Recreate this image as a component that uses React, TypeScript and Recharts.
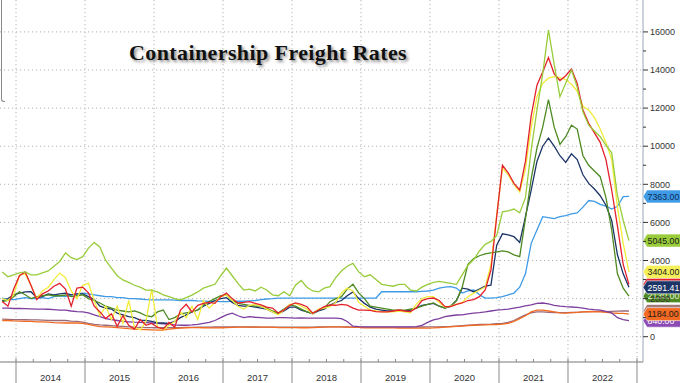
import React from 'react';
import { LineChart, Line, XAxis, YAxis, CartesianGrid, ReferenceDot } from 'recharts';

// Monthly observations, first point at START (fractional year)
const START = 2013.8;

const lightGreen = [
  3400, 3150, 3250, 3350, 3400, 3250, 3250, 3350, 3450, 3700,
  3950, 4400, 4150, 4050, 4200, 4650, 4950, 4700, 4000, 3600,
  3200, 2980, 2850, 2700, 2600, 2450, 2450, 2350, 2200, 2100,
  2000, 1930, 2050, 2180, 2350, 2550, 2650, 2750, 3200, 3600,
  3200, 2800, 2450, 2500, 2400, 2600, 2450, 2200, 2150, 2360,
  2150, 2700, 2950, 2600, 2400, 2350, 2550, 2625, 3100, 3450,
  3700, 3850, 3400, 3150, 3250, 3000, 2750, 2700, 2650, 2750,
  2750, 2450, 2400, 2600, 2750, 2850, 2900, 2850, 2800, 2750,
  3250, 3750, 4050, 4500, 4850, 5000, 5300, 6550, 6600, 6700,
  6500, 7300, 9800, 11900, 13800, 16100, 14300, 12600, 13300, 14000,
  13100, 11800, 11100, 10800, 10500, 10050, 9650, 7400, 6100, 5045,
];

const red = [
  1850, 1600, 2500, 3200, 3400, 2700, 1950, 2250, 2400, 2650,
  2800, 2500, 1600, 2550, 2600, 2300, 1600, 1300, 950, 1200,
  550, 1100, 600, 400, 900, 600, 700, 500, 400, 750,
  500, 1400, 1700, 1300, 1650, 1750, 1800, 1750, 2100, 2290,
  2000, 1770, 1800, 1840, 1750, 1665, 1550, 1500, 1240, 1400,
  1650, 1770, 1700, 1575, 1240, 1400, 1575, 1665, 1650, 1700,
  1660, 1500, 1400, 1400, 1380, 1320, 1300, 1300, 1350, 1400,
  1350, 1320, 1500, 1900, 2000, 2030, 1900, 1575, 1580, 1700,
  1770, 1900, 1950, 2100, 2450, 3500, 6300, 9000, 8600, 8050,
  7700, 9200, 11600, 13200, 13900, 14650, 13800, 13450, 13700, 14050,
  13300, 11900, 11200, 10700, 10200, 9300, 7700, 5800, 3800, 2750,
];

const yellow = [
  2000, 1900, 2200, 3240, 3300, 2700, 2000, 2400, 2600, 3000,
  3340, 3100, 2400, 2000, 2700, 2800, 1900, 1100, 1600, 900,
  1600, 700, 1900, 500, 350, 800, 2500, 500, 350, 600,
  800, 1300, 1000, 1600, 900, 1900, 1500, 1800, 2100, 2190,
  1900, 1600, 1450, 1650, 1700, 1600, 1450, 1300, 1150, 1400,
  1700, 1750, 1600, 1450, 1200, 1450, 1500, 1575, 1800, 2300,
  2550, 2400, 1800, 1600, 1400, 1350, 1300, 1300, 1300, 1350,
  1300, 1250, 1700, 2000, 2100, 2100, 1800, 1550, 1600, 1700,
  1800, 2100, 2290, 2450, 2600, 3800, 6400, 8850, 8500, 8000,
  7600, 8800, 11000, 12600, 13300, 13570, 13650, 13600, 13500, 13250,
  12900, 12100, 11900, 11500, 10900, 10200, 9300, 6800, 4900, 3404,
];

const darkGreen = [
  1840, 1900, 2100, 2360, 2200, 2000, 2100, 2150, 2200, 2150,
  2150, 2190, 2100, 2150, 2200, 2000, 1900, 1770, 1600, 1500,
  1400, 1350, 1300, 1350, 1250, 1100, 1050, 1300, 1400, 900,
  1000, 1200, 1250, 1300, 1400, 1665, 1850, 2000, 2150, 2190,
  1900, 1750, 1700, 1650, 1600, 1600, 1500, 1350, 1240, 1450,
  1665, 1600, 1450, 1300, 1240, 1400, 1500, 1840, 2000, 2100,
  2500, 2750, 2300, 2000, 1600, 1550, 1500, 1450, 1400, 1400,
  1400, 1450, 1500, 1600, 1700, 1770, 1600, 1500, 1600, 1900,
  2600, 3800, 4100, 4250, 4350, 4400, 4450, 4500, 4450, 4300,
  4200, 6200, 8300, 9900, 11000, 12450, 11000, 10100, 10500, 11100,
  10900, 9500, 9000, 8700, 8400, 7300, 5600, 3300, 2550, 2130,
];

const navy = [
  1900, 2000, 2200, 2290, 2350, 2360, 2050, 2100, 2250, 2200,
  2250, 2290, 2200, 2250, 2250, 2100, 1950, 1600, 1500, 1450,
  1240, 1150, 1050, 1000, 875, 850, 800, 720, 720, 700,
  800, 1000, 1150, 1300, 1400, 1600, 1750, 1900, 2000, 2050,
  1800, 1650, 1600, 1600, 1550, 1500, 1450, 1300, 1200, 1350,
  1550, 1550, 1400, 1300, 1200, 1350, 1450, 1650, 1800, 1900,
  2150, 2350, 2000, 1750, 1550, 1450, 1400, 1350, 1350, 1350,
  1350, 1400, 1500, 1650, 1700, 1750, 1600, 1500, 1600, 1900,
  2550, 2500, 2350, 2500, 2650, 2710, 4800, 5400, 5350, 5250,
  4950, 6300, 7700, 9200, 10000, 10430, 10000, 9500, 9150, 9600,
  9300, 8500, 8050, 7750, 7400, 6900, 6100, 4300, 3300, 2591.41,
];

const blue = [
  2030, 1950, 1950, 2000, 2050, 2000, 2000, 2050, 2000, 2100,
  2150, 2100, 2200, 2250, 2290, 2250, 2200, 2150, 2100, 2100,
  2050, 2050, 2000, 2000, 1980, 1950, 1930, 1930, 1930, 1930,
  1920, 1900, 1900, 1900, 1880, 1870, 1850, 1850, 1840, 1840,
  1850, 1860, 1860, 1880, 1900, 1950, 1980, 2000, 2030, 2030,
  2030, 2030, 2030, 2030, 2030, 2030, 2030, 2030, 2030, 2030,
  2030, 2030, 2030, 2030, 2030, 2030, 2360, 2360, 2360, 2360,
  2360, 2360, 2360, 2380, 2400, 2450, 2550, 2600, 2625, 2550,
  2290, 2400, 2450, 2200, 2030, 2030, 2050, 2100, 2200, 2290,
  2600, 3300, 4900, 5600, 6300, 6250, 6200, 6300, 6350, 6450,
  6500, 6800, 7150, 7100, 6950, 6850, 6700, 6850, 7350, 7363,
];

const purple = [
  1500, 1500, 1480, 1480, 1470, 1460, 1450, 1450, 1440, 1420,
  1400, 1400, 1350, 1320, 1300, 1250, 1150, 1050, 950, 900,
  850, 800, 780, 760, 750, 740, 720, 700, 680, 650,
  620, 600, 600, 620, 650, 700, 750, 850, 1000, 1150,
  1240, 1100, 1000, 1050, 1020, 1000, 980, 980, 1000, 1000,
  990, 980, 990, 980, 980, 980, 980, 980, 980, 950,
  800, 550, 530, 520, 520, 520, 520, 520, 520, 520,
  520, 520, 530, 600, 750, 880, 950, 1050, 1100, 1140,
  1150, 1200, 1240, 1260, 1300, 1350, 1400, 1420, 1450, 1500,
  1550, 1620, 1665, 1750, 1770, 1720, 1650, 1600, 1575, 1560,
  1540, 1500, 1450, 1420, 1400, 1330, 1250, 1000, 900, 840,
];

const orange = [
  850, 850, 830, 820, 800, 800, 780, 780, 760, 740,
  730, 720, 720, 720, 700, 650, 580, 530, 520, 500,
  480, 450, 420, 400, 380, 370, 360, 350, 350, 400,
  430, 450, 470, 480, 480, 470, 460, 460, 470, 480,
  490, 500, 500, 500, 500, 500, 500, 500, 480, 480,
  480, 480, 470, 470, 480, 490, 500, 520, 520, 520,
  500, 500, 490, 470, 460, 460, 460, 460, 460, 450,
  450, 450, 450, 450, 450, 460, 480, 500, 520, 540,
  560, 580, 600, 610, 620, 630, 640, 660, 700, 800,
  950, 1100, 1300, 1400, 1400, 1350, 1300, 1250, 1240, 1260,
  1280, 1300, 1310, 1310, 1300, 1280, 1250, 1230, 1220, 1184,
];

const mauve = [
  920, 910, 900, 900, 890, 880, 880, 870, 860, 850,
  850, 850, 820, 800, 760, 700, 650, 620, 600, 580,
  560, 540, 520, 500, 490, 480, 480, 470, 470, 480,
  480, 480, 490, 490, 500, 500, 500, 510, 520, 520,
  520, 520, 520, 510, 510, 500, 500, 500, 500, 500,
  500, 500, 500, 500, 500, 510, 520, 520, 520, 520,
  510, 500, 500, 500, 500, 500, 500, 500, 500, 500,
  500, 500, 500, 510, 520, 520, 520, 530, 540, 560,
  580, 600, 620, 640, 650, 660, 680, 700, 750, 850,
  1000, 1150, 1250, 1300, 1300, 1280, 1270, 1260, 1260, 1270,
  1280, 1300, 1320, 1330, 1330, 1320, 1330, 1340, 1350, 1350,
];

const yGridValues = [0, 2000, 4000, 6000, 8000, 10000, 12000, 14000, 16000];
const yTickValues = [0, 1000, 2000, 3000, 4000, 5000, 6000, 7000, 8000, 9000, 10000, 11000, 12000, 13000, 14000, 15000, 16000];
const xGridValues = [2014, 2015, 2016, 2017, 2018, 2019, 2020, 2021, 2022, 2023];

const X_DOMAIN: [number, number] = [2013.768, 2023.087];
const Y_DOMAIN: [number, number] = [-1328, 17675];

type SeriesDef = { key: string; values: number[]; color: string; tag: string; tagText: string };

// draw order (first = bottom)
const series: SeriesDef[] = [
  { key: 'mauve', values: mauve, color: '#9a6a78', tag: '#a07a7a', tagText: '#ffffff' },
  { key: 'orange', values: orange, color: '#f26a21', tag: '#f26a21', tagText: '#1a1a1a' },
  { key: 'purple', values: purple, color: '#7d3f9e', tag: '#8a4bb5', tagText: '#ffffff' },
  { key: 'blue', values: blue, color: '#3f9be6', tag: '#3f9be6', tagText: '#0c2b57' },
  { key: 'navy', values: navy, color: '#1d3566', tag: '#1d3566', tagText: '#ffffff' },
  { key: 'darkGreen', values: darkGreen, color: '#4d8a22', tag: '#4d8a22', tagText: '#e8f0d8' },
  { key: 'yellow', values: yellow, color: '#f2ec3c', tag: '#f5f05a', tagText: '#1a1a1a' },
  { key: 'red', values: red, color: '#e4202c', tag: '#e4202c', tagText: '#ffffff' },
  { key: 'lightGreen', values: lightGreen, color: '#98cc3a', tag: '#98cc3a', tagText: '#1a1a1a' },
];

// tag stacking order (first = bottom)
const tagOrder = ['red', 'mauve', 'purple', 'orange', 'darkGreen', 'navy', 'yellow', 'lightGreen', 'blue'];

const data = lightGreen.map((_, i) => {
  const row: Record<string, number> = { date: START + i / 12 };
  series.forEach((s) => {
    row[s.key] = s.values[i];
  });
  return row;
});

const xTicks: number[] = [];
xGridValues.forEach((y) => {
  xTicks.push(y);
  if (y < 2023) xTicks.push(y + 0.25, y + 0.5, y + 0.75);
});

const AXIS_FONT = "'Liberation Sans', Arial, sans-serif";

const XTick = (props: any) => {
  const { x, y, payload } = props;
  const v: number = payload.value;
  const q = Math.round((v - Math.floor(v)) * 4);
  if (q === 0) {
    return (
      <g>
        <line x1={x} y1={y - 4} x2={x} y2={y + 22} stroke="#8a8a8a" strokeWidth={1} />
      </g>
    );
  }
  return (
    <g>
      <line x1={x} y1={y - 3} x2={x} y2={y} stroke="#8a8a8a" strokeWidth={1} />
      {q === 2 && (
        <text x={x} y={y + 19} textAnchor="middle" fontFamily={AXIS_FONT} fontSize={9.5} fill="#333">
          {Math.floor(v)}
        </text>
      )}
    </g>
  );
};

const YTick = (props: any) => {
  const { x, y, payload } = props;
  const v: number = payload.value;
  const major = v % 2000 === 0;
  return (
    <g>
      <line x1={x} y1={y} x2={x + (major ? 5 : 3)} y2={y} stroke="#333" strokeWidth={1} />
      {major && (
        <text x={x + 7} y={y + 3.2} fontFamily={AXIS_FONT} fontSize={9} fill="#333">
          {v}
        </text>
      )}
    </g>
  );
};

const makeTag = (fill: string, textColor: string, text: string) => (p: any) => {
  const cx = p.cx;
  const cy = p.cy;
  const h = 6.5;
  const d = `M${cx},${cy} L${cx + 4},${cy - h} L${cx + 45},${cy - h} L${cx + 45},${cy + h} L${cx + 4},${cy + h} Z`;
  return (
    <g>
      <path d={d} fill={fill} stroke="#ffffff" strokeWidth={0.6} />
      <text x={cx + 4.5} y={cy + 3.2} fontFamily={AXIS_FONT} fontSize={8.8} fill={textColor}>
        {text}
      </text>
    </g>
  );
};

export default function App() {
  return (
    <div style={{ position: 'absolute', left: 0, top: 0, width: 680, height: 383, background: '#fff', overflow: 'hidden' }}>
      <LineChart width={680} height={383} data={data} margin={{ top: 0, right: 0, bottom: 0, left: 0 }}>
        <CartesianGrid
          stroke="#b4b4b4"
          strokeDasharray="1.2 2.8"
          horizontalValues={yGridValues}
          verticalValues={xGridValues}
        />
        <XAxis
          dataKey="date"
          type="number"
          domain={X_DOMAIN}
          allowDataOverflow
          ticks={xTicks}
          interval={0}
          height={21}
          tickSize={0}
          tickMargin={0}
          tickLine={false}
          axisLine={{ stroke: '#777' }}
          tick={<XTick />}
        />
        <YAxis
          orientation="right"
          type="number"
          domain={Y_DOMAIN}
          allowDataOverflow
          ticks={yTickValues}
          interval={0}
          width={37}
          tickSize={0}
          tickMargin={0}
          tickLine={false}
          axisLine={{ stroke: '#9aa8b8' }}
          tick={<YTick />}
        />
        {series.map((s) => (
          <Line
            key={s.key}
            type="linear"
            dataKey={s.key}
            stroke={s.color}
            strokeWidth={1.3}
            dot={false}
            activeDot={false}
            legendType="none"
            isAnimationActive={false}
          />
        ))}
        {tagOrder.map((k) => {
          const s = series.find((z) => z.key === k)!;
          const last = s.values[s.values.length - 1];
          const txt = last.toFixed(2);
          return (
            <ReferenceDot
              key={'tag-' + k}
              x={X_DOMAIN[1]}
              y={last}
              r={0}
              ifOverflow="visible"
              shape={makeTag(s.tag, s.tagText, txt)}
            />
          );
        })}
      </LineChart>
      <div
        style={{
          position: 'absolute',
          left: 0,
          top: 41,
          width: 536,
          textAlign: 'center',
          fontFamily: "'Liberation Serif', 'Times New Roman', serif",
          fontWeight: 700,
          fontSize: 22,
          letterSpacing: 0.4,
          color: '#111',
          textShadow: '2px 2px 3px rgba(0,0,0,0.45)',
          whiteSpace: 'nowrap',
          lineHeight: '24px',
        }}
      >
        Containership Freight Rates
      </div>
      <div
        style={{
          position: 'absolute',
          left: 1,
          top: -6,
          width: 3,
          height: 107,
          borderLeft: '1.5px solid #8a8a8a',
          borderBottom: '1.5px solid #8a8a8a',
          borderBottomLeftRadius: 3,
        }}
      />
    </div>
  );
}
